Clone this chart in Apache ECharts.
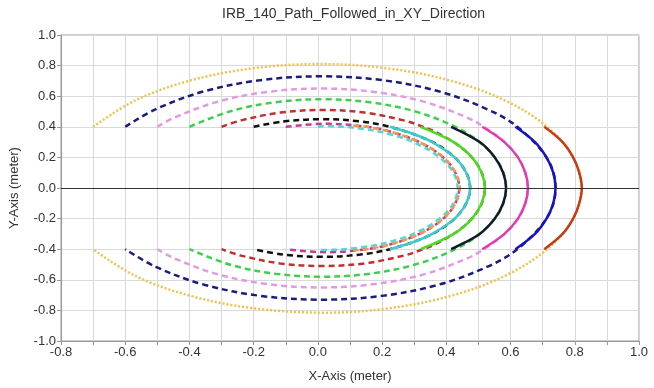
<!DOCTYPE html>
<html>
<head>
<meta charset="utf-8">
<script src="https://cdn.jsdelivr.net/npm/echarts@6/dist/echarts.min.js"></script>
<style>
  html, body { margin: 0; padding: 0; background: #fff; }
  #chart { width: 654px; height: 388px; }
</style>
</head>
<body>
<div id="chart"></div>
<script>
// reference paths (dashed / dotted)
const goldPath = [[-0.70,0.40],[-0.568,0.573],[-0.40,0.701],[-0.204,0.782],[0.007,0.81],[0.218,0.782],[0.414,0.701],[0.582,0.573],[0.711,0.405],[0.792,0.21],[0.82,0],[0.792,-0.21],[0.711,-0.405],[0.582,-0.575],[0.414,-0.705],[0.218,-0.787],[0.02,-0.815],[-0.204,-0.785],[-0.40,-0.703],[-0.568,-0.575],[-0.70,-0.40]];
const navyPath = [[-0.60,0.40],[-0.504,0.516],[-0.354,0.632],[-0.178,0.705],[0.011,0.73],[0.20,0.705],[0.376,0.632],[0.526,0.516],[0.621,0.40],[0.715,0.189],[0.74,0],[0.715,-0.189],[0.621,-0.40],[0.526,-0.516],[0.376,-0.632],[0.20,-0.705],[0.011,-0.73],[-0.178,-0.705],[-0.354,-0.632],[-0.504,-0.516],[-0.60,-0.40]];
const violetPath = [[-0.50,0.40],[-0.447,0.46],[-0.314,0.563],[-0.158,0.628],[0.009,0.65],[0.176,0.628],[0.332,0.563],[0.465,0.46],[0.517,0.40],[0.584,0.295],[0.632,0.168],[0.654,0],[0.632,-0.168],[0.584,-0.295],[0.517,-0.40],[0.465,-0.46],[0.332,-0.563],[0.176,-0.628],[0.009,-0.65],[-0.158,-0.628],[-0.314,-0.563],[-0.447,-0.46],[-0.50,-0.40]];
const greenPath = [[-0.40,0.40],[-0.272,0.502],[-0.134,0.56],[0.014,0.58],[0.162,0.56],[0.30,0.502],[0.428,0.40],[0.509,0.29],[0.567,0.15],[0.586,0],[0.567,-0.15],[0.509,-0.29],[0.428,-0.40],[0.30,-0.502],[0.162,-0.56],[0.014,-0.58],[-0.134,-0.56],[-0.272,-0.502],[-0.40,-0.40]];
const redPath = [[-0.30,0.40],[-0.239,0.442],[-0.117,0.493],[0.014,0.51],[0.145,0.493],[0.267,0.442],[0.328,0.40],[0.372,0.361],[0.452,0.255],[0.503,0.132],[0.52,0],[0.503,-0.132],[0.452,-0.255],[0.372,-0.361],[0.328,-0.40],[0.267,-0.442],[0.145,-0.493],[0.014,-0.51],[-0.117,-0.493],[-0.239,-0.442],[-0.30,-0.40]];
const blackPath = [[-0.20,0.40],[-0.108,0.435],[0.012,0.45],[0.132,0.435],[0.224,0.40],[0.339,0.318],[0.412,0.225],[0.458,0.116],[0.474,0],[0.458,-0.116],[0.412,-0.225],[0.339,-0.318],[0.224,-0.40],[0.132,-0.435],[0.012,-0.45],[-0.108,-0.435],[-0.20,-0.40]];
const purplePath = [[-0.10,0.40],[0.026,0.42],[0.152,0.40],[0.233,0.364],[0.319,0.297],[0.385,0.21],[0.426,0.109],[0.44,0],[0.426,-0.109],[0.385,-0.21],[0.319,-0.297],[0.233,-0.364],[0.152,-0.40],[0.026,-0.42],[-0.10,-0.40]];
const cyanPath = [[0.0,0.40],[0.02,0.405],[0.127,0.39],[0.228,0.35],[0.313,0.285],[0.379,0.20],[0.421,0.104],[0.435,0],[0.421,-0.104],[0.379,-0.20],[0.313,-0.285],[0.228,-0.35],[0.127,-0.39],[0.02,-0.405],[0.0,-0.40]];

// followed paths (right side arcs)
const redFollowed = [[0.705,0.40],[0.762,0.30],[0.795,0.20],[0.814,0.10],[0.822,0],[0.814,-0.10],[0.795,-0.20],[0.762,-0.30],[0.705,-0.40]];
const blueFollowed = [[0.615,0.40],[0.676,0.30],[0.712,0.20],[0.733,0.10],[0.74,0],[0.733,-0.10],[0.712,-0.20],[0.676,-0.30],[0.615,-0.40]];
const magentaFollowed = [[0.512,0.40],[0.581,0.30],[0.623,0.20],[0.646,0.10],[0.654,0],[0.646,-0.10],[0.623,-0.20],[0.581,-0.30],[0.512,-0.40]];
const blackFollowed = [[0.415,0.40],[0.504,0.30],[0.551,0.20],[0.577,0.10],[0.586,0],[0.577,-0.10],[0.551,-0.20],[0.504,-0.30],[0.415,-0.40]];
const greenFollowed = [[0.32,0.40],[0.423,0.30],[0.48,0.20],[0.51,0.10],[0.52,0],[0.51,-0.10],[0.48,-0.20],[0.423,-0.30],[0.32,-0.40]];
const cyanFollowed = [[0.224,0.40],[0.302,0.35],[0.356,0.30],[0.426,0.20],[0.462,0.10],[0.474,0],[0.462,-0.10],[0.426,-0.20],[0.356,-0.30],[0.302,-0.35],[0.224,-0.40]];
const orangeFollowed = [[0.11,0.408],[0.152,0.40],[0.233,0.364],[0.319,0.297],[0.385,0.21],[0.426,0.109],[0.442,0],[0.426,-0.109],[0.385,-0.21],[0.319,-0.297],[0.233,-0.364],[0.152,-0.40],[0.11,-0.408]];

const FONT = 'Liberation Sans, Arial, sans-serif';

function pathSeries(name, data, color, dash, width) {
    return {
        name: name,
        type: 'line',
        data: data,
        smooth: 0.35,
        showSymbol: false,
        silent: true,
        lineStyle: {color: color, width: width || 2.5, type: dash}
    };
}

var chart = echarts.init(document.getElementById('chart'));
var option = {
    animation: false,
    title: {
        text: 'IRB_140_Path_Followed_in_XY_Direction',
        left: 217,
        top: 2,
        textStyle: {fontFamily: FONT, fontSize: 14, fontWeight: 'normal', color: '#333'}
    },
    grid: {
        left: 61, right: 15, top: 35, bottom: 45,
        show: true, borderColor: '#999', borderWidth: 1
    },
    xAxis: {
        type: 'value',
        min: -0.8, max: 1.0, interval: 0.1,
        name: 'X-Axis (meter)',
        nameLocation: 'middle',
        nameGap: 29,
        nameTextStyle: {fontFamily: FONT, fontSize: 13, color: '#333'},
        axisLine: {show: true, onZero: false, lineStyle: {color: '#999'}},
        axisTick: {show: true, length: 4, lineStyle: {color: '#999'}},
        axisLabel: {
            fontFamily: FONT, fontSize: 13, color: '#333', margin: 5,
            formatter: v => Math.round(v * 10) % 2 === 0 ? v.toFixed(1) : ''
        },
        splitLine: {show: true, lineStyle: {color: '#d9d9d9'}}
    },
    yAxis: {
        type: 'value',
        min: -1.0, max: 1.0, interval: 0.2,
        name: 'Y-Axis (meter)',
        nameLocation: 'middle',
        nameGap: 40,
        nameTextStyle: {fontFamily: FONT, fontSize: 13, color: '#333'},
        axisLine: {show: true, onZero: false, lineStyle: {color: '#999'}},
        axisTick: {show: true, length: 4, lineStyle: {color: '#999'}},
        axisLabel: {fontFamily: FONT, fontSize: 13, color: '#333', margin: 5, formatter: v => v.toFixed(1)},
        splitLine: {show: true, lineStyle: {color: '#d9d9d9'}}
    },
    series: [
        Object.assign(pathSeries('gold', goldPath, '#f2c04c', [2, 2], 2.5), {
            markLine: {
                silent: true, symbol: 'none', label: {show: false},
                lineStyle: {color: '#333', width: 1.2, type: 'solid'},
                data: [{yAxis: 0}]
            }
        }),
        pathSeries('navy', navyPath, '#1c1c7e', [6, 4]),
        pathSeries('violet', violetPath, '#e49ae0', [6, 4]),
        pathSeries('green', greenPath, '#3fcf4f', [6, 4]),
        pathSeries('red', redPath, '#c22f2f', [6, 4]),
        pathSeries('black', blackPath, '#111111', [6, 4]),
        pathSeries('purple', purplePath, '#c23b98', [6, 4]),
        pathSeries('cyan', cyanPath, '#52d8d8', [6, 4]),
        pathSeries('redFollowed', redFollowed, '#c63a14', 'solid'),
        pathSeries('blueFollowed', blueFollowed, '#1414c0', 'solid'),
        pathSeries('magentaFollowed', magentaFollowed, '#e03cb0', 'solid'),
        pathSeries('blackFollowed', blackFollowed, '#121a2a', 'solid'),
        pathSeries('greenFollowed', greenFollowed, '#44dd22', 'solid'),
        pathSeries('cyanFollowed', cyanFollowed, '#3ccccc', 'solid'),
        pathSeries('orangeFollowed', orangeFollowed, '#f09a48', [6, 4])
    ]
};
chart.setOption(option);
</script>
</body>
</html>
